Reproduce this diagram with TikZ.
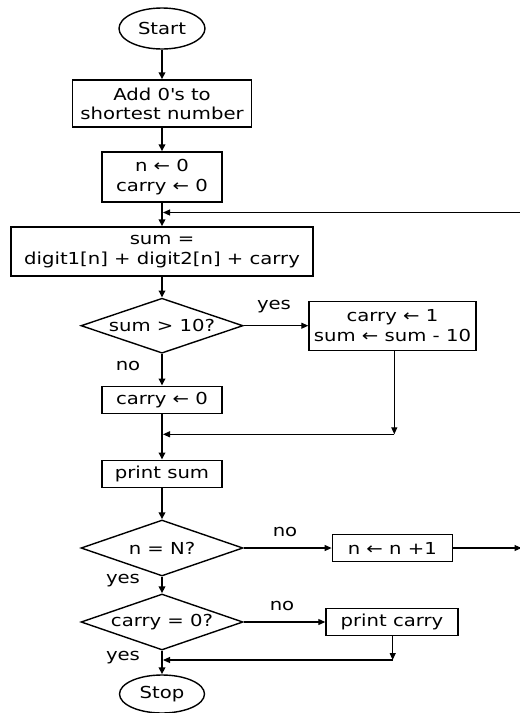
\documentclass[tikz,border=0pt]{standalone}
\usepackage{fontspec}
\setmainfont{DejaVu Sans}[FakeStretch=1.19]
\usetikzlibrary{shapes.geometric,arrows.meta}
\begin{document}
\begin{tikzpicture}[x=1pt,y=-1pt,
  every node/.style={font=\fontsize{16.5pt}{19.3pt}\selectfont, inner sep=0pt, align=center},
  proc/.style={draw, line width=1.4pt, rectangle},
  term/.style={draw, line width=1.4pt, ellipse},
  decide/.style={draw, line width=1.4pt, diamond, aspect=2.95},
  mainarr/.style={line width=1.7pt, -{Triangle[length=7pt,width=6.5pt]}},
  sidearr/.style={line width=1.1pt, -{Triangle[length=7pt,width=6pt]}},
  lbl/.style={}]
\useasboundingbox (0,0) rectangle (520,713);

\node[term, minimum width=86pt, minimum height=41pt] (start) at (162,28.5) {Start};
\node[proc, minimum width=179pt, minimum height=47pt] (add) at (162,103.5) {Add 0\textquotesingle s to\\shortest number};
\node[proc, minimum width=120pt, minimum height=50pt] (init) at (162,177) {n ← 0\\carry ← 0};
\node[proc, minimum width=302pt, minimum height=49pt] (sum) at (162,251.5) {sum =\\digit1[n] + digit2[n] + carry};
\node[decide, minimum width=162pt, minimum height=55pt] (d1) at (162,325.7) {sum > 10?};
\node[proc, minimum width=167pt, minimum height=49pt] (c1) at (392.5,325.7) {carry ← 1\\sum ← sum - 10};
\node[proc, minimum width=120pt, minimum height=27pt] (c0) at (162,399.7) {carry ← 0};
\node[proc, minimum width=120pt, minimum height=27pt] (ps) at (162,473.7) {print sum};
\node[decide, minimum width=162pt, minimum height=56pt] (d2) at (162,548) {n = N?};
\node[proc, minimum width=120pt, minimum height=27pt] (inc) at (392.3,548) {n ← n +1};
\node[decide, minimum width=162pt, minimum height=56pt] (d3) at (162,622) {carry = 0?};
\node[proc, minimum width=132pt, minimum height=27pt] (pc) at (392,622) {print carry};
\node[term, minimum width=85pt, minimum height=38pt] (stop) at (162,694) {Stop};

\coordinate (j1) at (163,212.5);
\coordinate (rt) at (522,212.5);
\coordinate (j2) at (163,434.3);
\coordinate (k2) at (394.3,434.3);
\coordinate (j3) at (163,660);
\coordinate (k3) at (392.7,660);
\coordinate (rr) at (521.5,548);

\node[lbl] (ly1) at (274,307) {yes};
\node[lbl] (ln1) at (128,366) {no};
\node[lbl] (ln2) at (285,532) {no};
\node[lbl] (ly2) at (123,581) {yes};
\node[lbl] (ln3) at (282,606) {no};
\node[lbl] (ly3) at (123,658) {yes};

\draw[mainarr] (start) -- (add);
\draw[mainarr] (add) -- (init);
\draw[mainarr] (init) -- (sum);
\draw[sidearr] (rt) -- (j1);
\draw[mainarr] (sum) -- (d1);
\draw[sidearr] (d1.east) -- (c1.west);
\draw[mainarr] (d1.south) -- (c0.north);
\draw[mainarr] (c0) -- (ps);
\draw[sidearr] (c1.south -| k2) -- (k2);
\draw[sidearr] (k2) -- (j2);
\draw[mainarr] (ps) -- (d2.north);
\draw[sidearr] (d2.east) -- (inc.west);
\draw[sidearr] (inc.east) -- (rr);
\draw[mainarr] (d2.south) -- (d3.north);
\draw[sidearr] (d3.east) -- (pc.west);
\draw[sidearr] (pc.south -| k3) -- (k3);
\draw[sidearr] (k3) -- (j3);
\draw[mainarr] (d3.south) -- (stop.north);
\end{tikzpicture}
\end{document}
